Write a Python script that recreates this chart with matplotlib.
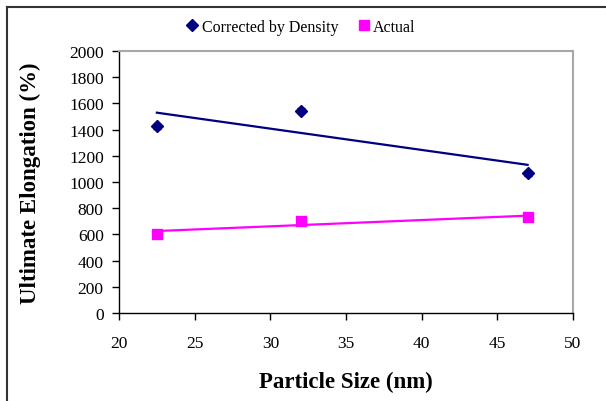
import numpy as np
import matplotlib
matplotlib.use("Agg")
import matplotlib.pyplot as plt
from matplotlib.lines import Line2D

plt.rcParams['font.family'] = ['Liberation Serif', 'DejaVu Serif']

particle_size = [22.5, 32, 47]
corrected = [1425, 1545, 1065]
corrected_err = [20, 22, 18]
actual = [605, 705, 730]
actual_err = [16, 20, 18]

x_ticks = [20, 25, 30, 35, 40, 45, 50]
y_ticks = list(range(0, 2001, 200))

fig = plt.figure(figsize=(6.06, 4.02), dpi=100)
ax = fig.add_axes([119/606, 88/402, (573-119)/606, (314-52)/402])

navy = '#000080'
pink = '#FF00FF'

ax.errorbar(particle_size, corrected, yerr=corrected_err, fmt='D', color=navy,
            ms=6, capsize=3, elinewidth=1, capthick=1, label='Corrected by Density', zorder=3)
ax.errorbar(particle_size, actual, yerr=actual_err, fmt='s', color=pink,
            ms=7, capsize=3, elinewidth=1, capthick=1, label='Actual', zorder=3)

# linear trendlines
xs = np.array([min(particle_size), max(particle_size)])
pc = np.polyfit(particle_size, corrected, 1)
pa = np.polyfit(particle_size, actual, 1)
ax.plot(xs, np.polyval(pc, xs), color=navy, lw=1.6)
ax.plot(xs, np.polyval(pa, xs), color=pink, lw=1.6)

ax.set_xlim(20, 50)
ax.set_ylim(0, 2000)
ax.set_xticks(x_ticks)
ax.set_yticks(y_ticks)
ax.tick_params(direction='out', length=5, width=1, labelsize=12.5, colors='black')
ax.tick_params(axis='x', pad=11)
ax.tick_params(axis='y', pad=6)
for s in ['left', 'bottom']:
    ax.spines[s].set_color('black')
    ax.spines[s].set_linewidth(1)
for s in ['top', 'right']:
    ax.spines[s].set_color('#A8A8A8')
    ax.spines[s].set_linewidth(1.5)

ax.set_xlabel('Particle Size (nm)', fontsize=16.5, fontweight='bold', labelpad=14)
ax.set_ylabel('Ultimate Elongation (%)', fontsize=16.5, fontweight='bold', labelpad=20)

handles = [Line2D([], [], marker='D', color=navy, ls='none', ms=6),
           Line2D([], [], marker='s', color=pink, ls='none', ms=7)]
fig.legend(handles, ['Corrected by Density', 'Actual'], loc='center',
           bbox_to_anchor=(0.495, 1 - 28/402), ncol=2, frameon=False,
           fontsize=11.5, handletextpad=0.1, columnspacing=1.1, handlelength=1.0)

# outer chart-area frame (top and left edges visible)
fig.add_artist(Line2D([7/606, 1], [1 - 7.5/402, 1 - 7.5/402], transform=fig.transFigure,
                      color='#333333', lw=1.5))
fig.add_artist(Line2D([7/606, 7/606], [0, 1 - 7.5/402], transform=fig.transFigure,
                      color='#333333', lw=1.5))

fig.savefig('out.png', dpi=100)
